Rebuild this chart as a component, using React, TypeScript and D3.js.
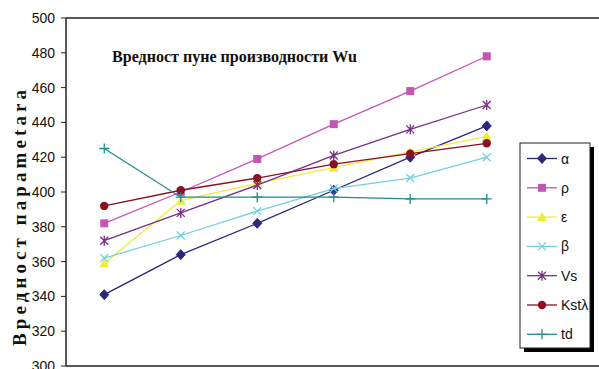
import React from "react";
import * as d3 from "d3";

const categories = ["1", "2", "3", "4", "5", "6"];
const yTicks = [300, 320, 340, 360, 380, 400, 420, 440, 460, 480, 500];
const alpha = [341, 364, 382, 401, 420, 438];
const rho = [382, 400, 419, 439, 458, 478];
const eps = [359, 395, 405, 414, 423, 432];
const beta = [362, 375, 389, 402, 408, 420];
const vs = [372, 388, 404, 421, 436, 450];
const kst = [392, 401, 408, 416, 422, 428];
const td = [425, 397, 397, 397, 396, 396];

const seriesNames = ["α", "ρ", "ε", "β", "Vs", "Kstλ", "td"];
const seriesData = [alpha, rho, eps, beta, vs, kst, td];
const seriesColors = ["#29287c", "#c455b4", "#f0ec3c", "#70d2e0", "#7a2e86", "#8a1022", "#1e8c8c"];
const seriesMarkers = ["diamond", "square", "triangle", "x", "star", "circle", "plus"];

const W = 599, H = 369;
const left = 66, right = 525, top = 18, bottom = 366;

function Marker({ type, x, y, color }: { type: string; x: number; y: number; color: string }) {
  switch (type) {
    case "diamond":
      return <path d={`M${x},${y - 5}L${x + 4.5},${y}L${x},${y + 5}L${x - 4.5},${y}Z`} fill={color} stroke={color} />;
    case "square":
      return <rect x={x - 4} y={y - 4} width={8} height={8} fill={color} />;
    case "triangle":
      return <path d={`M${x},${y - 5}L${x + 5},${y + 4}L${x - 5},${y + 4}Z`} fill={color} />;
    case "x":
      return <path d={`M${x - 4},${y - 4}L${x + 4},${y + 4}M${x + 4},${y - 4}L${x - 4},${y + 4}`} stroke={color} strokeWidth={1.3} />;
    case "star":
      return <path d={`M${x - 4},${y - 4}L${x + 4},${y + 4}M${x + 4},${y - 4}L${x - 4},${y + 4}M${x},${y - 5}L${x},${y + 5}`} stroke={color} strokeWidth={1.3} />;
    case "circle":
      return <circle cx={x} cy={y} r={4.2} fill={color} />;
    case "plus":
      return <path d={`M${x - 5},${y}L${x + 5},${y}M${x},${y - 5}L${x},${y + 5}`} stroke={color} strokeWidth={1.3} />;
  }
  return null;
}

export default function App() {
  const x = d3.scaleBand<string>().domain(categories).range([left, right]);
  const y = d3.scaleLinear().domain([300, 500]).range([bottom, top]);
  const cx = (c: string) => (x(c) as number) + x.bandwidth() / 2;
  const line = d3.line<number>().x((_, i) => cx(categories[i])).y((v) => y(v));

  const legX = 520, legY = 143, legW = 70, legH = 205;
  const legStep = 29.3;

  return (
    <svg width={W} height={H} style={{ position: "absolute", left: 0, top: 0, background: "#fff" }}>
      <rect width={W} height={H} fill="#fff" />
      <line x1={left} x2={W} y1={top} y2={top} stroke="#222" strokeWidth={1.5} />
      <line x1={left} x2={W} y1={bottom} y2={bottom} stroke="#222" strokeWidth={1.5} />
      <line x1={left} x2={left} y1={top} y2={bottom} stroke="#222" strokeWidth={1.5} />
      {yTicks.map((t) => (
        <g key={t}>
          <line x1={left - 5} x2={left} y1={y(t)} y2={y(t)} stroke="#222" strokeWidth={1} />
          <text x={55} y={y(t) + 5} textAnchor="end" fontFamily="Liberation Sans, Arial, sans-serif" fontSize={14} fill="#111">
            {t}
          </text>
        </g>
      ))}
      <text
        transform={`translate(26,${218}) rotate(-90)`}
        textAnchor="middle"
        fontFamily="Liberation Serif, Times New Roman, serif"
        fontWeight="bold"
        fontSize={19}
        textLength={256}
        lengthAdjust="spacing"
        fill="#111"
      >
        Вредност параmetara
      </text>
      <text x={112} y={62} fontFamily="Liberation Serif, Times New Roman, serif" fontWeight="bold" fontSize={16} fill="#111" textLength={245} lengthAdjust="spacingAndGlyphs">
        Вредност пуне производности Wu
      </text>
      {seriesData.map((d, si) => (
        <g key={si}>
          <path d={line(d) as string} fill="none" stroke={seriesColors[si]} strokeWidth={1.3} />
          {d.map((v, i) => (
            <Marker key={i} type={seriesMarkers[si]} x={cx(categories[i])} y={y(v)} color={seriesColors[si]} />
          ))}
        </g>
      ))}
      <rect x={legX + 4} y={legY + 4} width={legW} height={legH} fill="#000" />
      <rect x={legX} y={legY} width={legW} height={legH} fill="#fff" stroke="#222" strokeWidth={1} />
      {seriesNames.map((n, i) => {
        const ly = legY + 15.5 + i * legStep;
        return (
          <g key={n}>
            <line x1={527} x2={557} y1={ly} y2={ly} stroke={seriesColors[i]} strokeWidth={1.3} />
            <Marker type={seriesMarkers[i]} x={542} y={ly} color={seriesColors[i]} />
            <text x={561} y={ly + 5} fontFamily="Liberation Sans, Arial, sans-serif" fontSize={14} fill="#111">
              {n}
            </text>
          </g>
        );
      })}
    </svg>
  );
}
